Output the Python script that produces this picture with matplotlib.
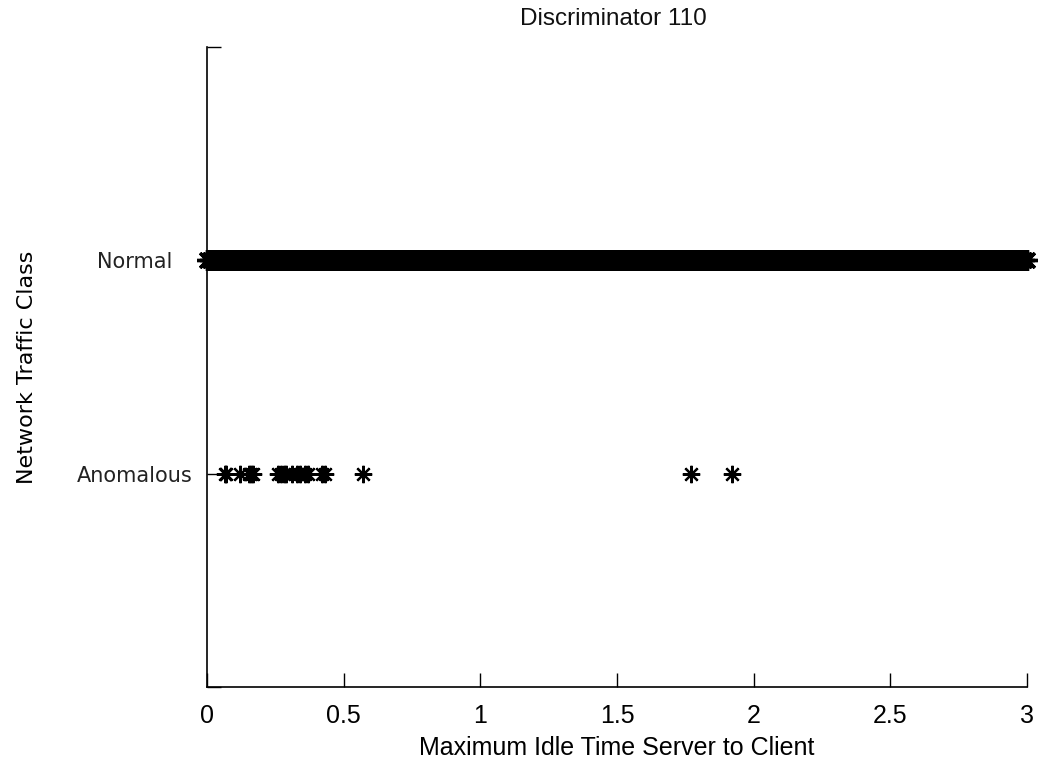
import matplotlib

matplotlib.use("Agg")

import matplotlib.pyplot as plt

# Anomalous samples (class 1)
anomalous_x = [0.065, 0.07, 0.12, 0.155, 0.16, 0.17, 0.26, 0.27, 0.28, 0.29,
               0.31, 0.33, 0.34, 0.36, 0.37, 0.42, 0.43, 0.57, 1.77, 1.92]

# Normal samples (class 2) - covers the whole range densely
normal_x = [
    0.00, 0.01, 0.02, 0.03, 0.04, 0.05, 0.06, 0.07, 0.08, 0.09,
    0.10, 0.11, 0.12, 0.13, 0.14, 0.15, 0.16, 0.17, 0.18, 0.19,
    0.20, 0.21, 0.22, 0.23, 0.24, 0.25, 0.26, 0.27, 0.28, 0.29,
    0.30, 0.31, 0.32, 0.33, 0.34, 0.35, 0.36, 0.37, 0.38, 0.39,
    0.40, 0.41, 0.42, 0.43, 0.44, 0.45, 0.46, 0.47, 0.48, 0.49,
    0.50, 0.51, 0.52, 0.53, 0.54, 0.55, 0.56, 0.57, 0.58, 0.59,
    0.60, 0.61, 0.62, 0.63, 0.64, 0.65, 0.66, 0.67, 0.68, 0.69,
    0.70, 0.71, 0.72, 0.73, 0.74, 0.75, 0.76, 0.77, 0.78, 0.79,
    0.80, 0.81, 0.82, 0.83, 0.84, 0.85, 0.86, 0.87, 0.88, 0.89,
    0.90, 0.91, 0.92, 0.93, 0.94, 0.95, 0.96, 0.97, 0.98, 0.99,
    1.00, 1.01, 1.02, 1.03, 1.04, 1.05, 1.06, 1.07, 1.08, 1.09,
    1.10, 1.11, 1.12, 1.13, 1.14, 1.15, 1.16, 1.17, 1.18, 1.19,
    1.20, 1.21, 1.22, 1.23, 1.24, 1.25, 1.26, 1.27, 1.28, 1.29,
    1.30, 1.31, 1.32, 1.33, 1.34, 1.35, 1.36, 1.37, 1.38, 1.39,
    1.40, 1.41, 1.42, 1.43, 1.44, 1.45, 1.46, 1.47, 1.48, 1.49,
    1.50, 1.51, 1.52, 1.53, 1.54, 1.55, 1.56, 1.57, 1.58, 1.59,
    1.60, 1.61, 1.62, 1.63, 1.64, 1.65, 1.66, 1.67, 1.68, 1.69,
    1.70, 1.71, 1.72, 1.73, 1.74, 1.75, 1.76, 1.77, 1.78, 1.79,
    1.80, 1.81, 1.82, 1.83, 1.84, 1.85, 1.86, 1.87, 1.88, 1.89,
    1.90, 1.91, 1.92, 1.93, 1.94, 1.95, 1.96, 1.97, 1.98, 1.99,
    2.00, 2.01, 2.02, 2.03, 2.04, 2.05, 2.06, 2.07, 2.08, 2.09,
    2.10, 2.11, 2.12, 2.13, 2.14, 2.15, 2.16, 2.17, 2.18, 2.19,
    2.20, 2.21, 2.22, 2.23, 2.24, 2.25, 2.26, 2.27, 2.28, 2.29,
    2.30, 2.31, 2.32, 2.33, 2.34, 2.35, 2.36, 2.37, 2.38, 2.39,
    2.40, 2.41, 2.42, 2.43, 2.44, 2.45, 2.46, 2.47, 2.48, 2.49,
    2.50, 2.51, 2.52, 2.53, 2.54, 2.55, 2.56, 2.57, 2.58, 2.59,
    2.60, 2.61, 2.62, 2.63, 2.64, 2.65, 2.66, 2.67, 2.68, 2.69,
    2.70, 2.71, 2.72, 2.73, 2.74, 2.75, 2.76, 2.77, 2.78, 2.79,
    2.80, 2.81, 2.82, 2.83, 2.84, 2.85, 2.86, 2.87, 2.88, 2.89,
    2.90, 2.91, 2.92, 2.93, 2.94, 2.95, 2.96, 2.97, 2.98, 2.99,
    3.00,
]

class_labels = ["", "Anomalous", "Normal", ""]
x_ticks = [0, 0.5, 1, 1.5, 2, 2.5, 3]
x_tick_labels = ["0", "0.5", "1", "1.5", "2", "2.5", "3"]

# 8-armed asterisk marker (plus and cross combined)
asterisk = (8, 2, 0)

fig = plt.figure(figsize=(10.38, 7.61), dpi=100)
ax = fig.add_axes([0.1994, 0.0972, 0.79, 0.841])

ax.plot(normal_x, [2] * len(normal_x), linestyle="none", marker=asterisk,
        markersize=15, markeredgewidth=2.4, color="black", clip_on=False)
ax.plot(anomalous_x, [1] * len(anomalous_x), linestyle="none", marker=asterisk,
        markersize=12.5, markeredgewidth=1.6, color="black", clip_on=False)

ax.set_xlim(0, 3)
ax.set_ylim(0, 3)
ax.spines["top"].set_visible(False)
ax.spines["right"].set_visible(False)
ax.spines["left"].set_linewidth(1.2)
ax.spines["bottom"].set_linewidth(1.2)

ax.set_xticks(x_ticks)
ax.set_xticklabels(x_tick_labels, fontsize=18, family="Liberation Sans")
ax.set_yticks([0, 1, 2, 3])
ax.set_yticklabels(class_labels, fontsize=15, family="DejaVu Sans", color="#222222",
                   ha="center")
ax.tick_params(axis="both", direction="in", length=10, width=1.0)
ax.tick_params(axis="x", pad=12)
ax.tick_params(axis="y", pad=52)

ax.set_xlabel("Maximum Idle Time Server to Client", fontsize=18,
              family="Liberation Sans", labelpad=6)
ax.set_ylabel("Network Traffic Class", fontsize=16, family="DejaVu Sans", labelpad=29)
fig.text(0.5905, 0.975, "Discriminator 110", ha="center", va="center", fontsize=17.5,
         family="Liberation Sans", color="#111111")

plt.savefig("out.png", dpi=100)
